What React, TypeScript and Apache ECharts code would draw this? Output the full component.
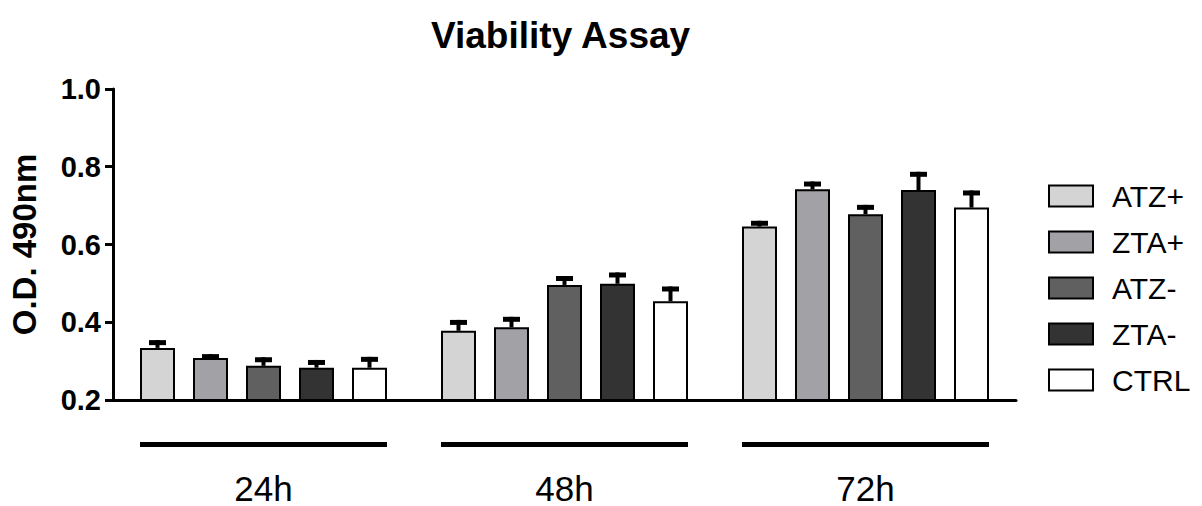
import React, { useEffect, useRef } from "react";
import * as echarts from "echarts";

const categories = ["24h", "48h", "72h"];
const seriesNames = ["ATZ+", "ZTA+", "ATZ-", "ZTA-", "CTRL"];
const atzPlus = [0.334, 0.378, 0.646];
const ztaPlus = [0.308, 0.387, 0.742];
const atzMinus = [0.288, 0.496, 0.678];
const ztaMinus = [0.283, 0.499, 0.740];
const ctrl = [0.283, 0.454, 0.695];
const atzPlusErr = [0.020, 0.028, 0.015];
const ztaPlusErr = [0.010, 0.027, 0.020];
const atzMinusErr = [0.022, 0.023, 0.024];
const ztaMinusErr = [0.020, 0.029, 0.047];
const ctrlErr = [0.028, 0.038, 0.044];
const yTicks = { min: 0.2, max: 1.0, interval: 0.2 };

const means = [atzPlus, ztaPlus, atzMinus, ztaMinus, ctrl];
const errs = [atzPlusErr, ztaPlusErr, atzMinusErr, ztaMinusErr, ctrlErr];
const colors = ["#d4d4d4", "#a2a1a6", "#606060", "#333333", "#ffffff"];

const FONT = "'Liberation Sans', Arial, sans-serif";
const BAR_W = 35;
const BAR_GAP = 18;

export default function App() {
  const ref = useRef<HTMLDivElement>(null);
  useEffect(() => {
    document.body.style.margin = "0";
    const chart = echarts.init(ref.current!, null, { renderer: "svg" });
    const series: any[] = [];
    means.forEach((m, i) => {
      series.push({
        type: "bar",
        name: seriesNames[i],
        data: m,
        barWidth: BAR_W,
        barGap: (BAR_GAP / BAR_W) * 100 + "%",
        itemStyle: { color: colors[i], borderColor: "#000", borderWidth: 2 },
        z: 2,
      });
    });
    means.forEach((m, i) => {
      const offset = (i - 2) * (BAR_W + BAR_GAP);
      series.push({
        type: "custom",
        name: "err-" + seriesNames[i],
        data: m.map((v, k) => [k, v, errs[i][k]]),
        encode: { x: 0, y: 1 },
        z: 3,
        renderItem: (params: any, api: any) => {
          const k = api.value(0);
          const v = api.value(1);
          const e = api.value(2);
          const base = api.coord([k, v]);
          const top = api.coord([k, v + e]);
          const cx = base[0] + offset;
          return {
            type: "group",
            children: [
              {
                type: "rect",
                shape: { x: cx - 2, y: top[1], width: 4, height: base[1] - top[1] },
                style: { fill: "#000" },
              },
              {
                type: "rect",
                shape: { x: cx - 8.5, y: top[1], width: 17, height: 5 },
                style: { fill: "#000" },
              },
            ],
          };
        },
      });
    });
    // group underline bars
    series.push({
      type: "custom",
      name: "group-lines",
      data: categories.map((c, k) => [k, yTicks.min]),
      encode: { x: 0, y: 1 },
      clip: false,
      silent: true,
      renderItem: (params: any, api: any) => {
        const p = api.coord([api.value(0), api.value(1)]);
        const half = (5 * BAR_W + 4 * BAR_GAP) / 2;
        return {
          type: "rect",
          shape: { x: p[0] - half, y: p[1] + 42, width: half * 2, height: 5 },
          style: { fill: "#000" },
        };
      },
    });

    chart.setOption({
      animation: false,
      backgroundColor: "#fff",
      textStyle: { fontFamily: FONT },
      title: {
        text: "Viability Assay",
        left: 426,
        top: 10,
        textStyle: { fontFamily: FONT, fontSize: 37, lineHeight: 40, fontWeight: "bold", color: "#000" },
      },
      legend: {
        data: seriesNames,
        orient: "vertical",
        left: 1043,
        top: 176,
        itemWidth: 44,
        itemHeight: 21,
        itemGap: 16,
        icon: "rect",
        textStyle: { fontFamily: FONT, fontSize: 30, lineHeight: 21, color: "#000", padding: [0, 0, 0, 14] },
      },
      grid: { left: 112, right: 186, top: 89, bottom: 106, containLabel: false },
      xAxis: {
        type: "category",
        data: categories,
        axisLine: { lineStyle: { color: "#000", width: 3 } },
        axisTick: { show: false },
        axisLabel: { margin: 73, fontFamily: FONT, fontSize: 35, lineHeight: 30, color: "#000" },
      },
      yAxis: {
        type: "value",
        min: yTicks.min,
        max: yTicks.max,
        interval: yTicks.interval,
        name: "O.D. 490nm",
        nameLocation: "middle",
        nameRotate: 90,
        nameGap: 72,
        nameTextStyle: { fontFamily: FONT, fontSize: 33, fontWeight: "bold", color: "#000" },
        axisLine: { show: true, lineStyle: { color: "#000", width: 3 } },
        axisTick: { show: true, length: 8, lineStyle: { color: "#000", width: 3 } },
        splitLine: { show: false },
        axisLabel: {
          margin: 12,
          fontFamily: FONT,
          fontSize: 29,
          fontWeight: "bold",
          color: "#000",
          formatter: (v: number) => v.toFixed(1),
        },
      },
      series,
    });
    return () => chart.dispose();
  }, []);
  return <div ref={ref} style={{ width: 1202, height: 506 }} />;
}
